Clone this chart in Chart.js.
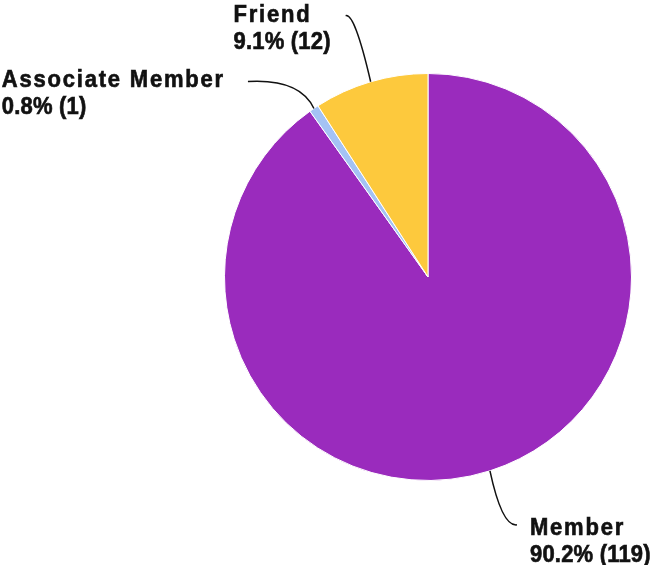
<!DOCTYPE html>
<html>
<head>
<meta charset="utf-8">
<script src="https://cdn.jsdelivr.net/npm/chart.js@4/dist/chart.umd.min.js"></script>
<style>
  html, body { margin: 0; padding: 0; background: #fff; }
  #wrap { width: 655px; height: 565px; }
</style>
</head>
<body>
<div id="wrap"><canvas id="chart" width="655" height="565"></canvas></div>
<script>
const labels = ['Member', 'Associate Member', 'Friend'];
const counts = [119, 1, 12];
const colors = ['#9a2bbd', '#a4c2f4', '#fdc93d'];

// leader line shapes, relative to the slice's outer mid point
const leaders = [
  { end: [27, 54], ctrl: [12, 56], side: 'right', gap: 13, base: 10 },
  { end: [-66, -27], ctrl: [-14, -30], side: 'left', gap: 23, base: 6 },
  { end: [-25, -66], ctrl: [-16, -69], side: 'left', gap: 15, base: 6 }
];

const total = counts.reduce((a, b) => a + b, 0);

function drawText(ctx, text, x, y, spacing) {
  ctx.save();
  ctx.letterSpacing = spacing + 'px';
  ctx.translate(x, y);
  ctx.scale(1, 1.1);
  ctx.lineWidth = 0.6;
  ctx.strokeText(text, 0, 0);
  ctx.fillText(text, 0, 0);
  ctx.restore();
}

const calloutPlugin = {
  id: 'callouts',
  afterDatasetsDraw(chart) {
    const ctx = chart.ctx;
    const meta = chart.getDatasetMeta(0);
    ctx.save();
    ctx.font = 'bold 22px "Liberation Sans", Arial, sans-serif';
    ctx.fillStyle = '#111';
    ctx.strokeStyle = '#111';
    ctx.lineWidth = 1.5;
    ctx.textAlign = 'left';
    ctx.textBaseline = 'alphabetic';
    meta.data.forEach((arc, i) => {
      const mid = (arc.startAngle + arc.endAngle) / 2;
      const ax = arc.x + Math.cos(mid) * arc.outerRadius;
      const ay = arc.y + Math.sin(mid) * arc.outerRadius;
      const l = leaders[i];
      const ex = ax + l.end[0], ey = ay + l.end[1];
      ctx.beginPath();
      ctx.moveTo(ax, ay);
      ctx.quadraticCurveTo(ax + l.ctrl[0], ay + l.ctrl[1], ex, ey);
      ctx.stroke();

      const pct = (counts[i] / total * 100).toFixed(1) + '% (' + counts[i] + ')';
      ctx.letterSpacing = '1.8px';
      const w1 = ctx.measureText(labels[i]).width;
      ctx.letterSpacing = '0.2px';
      const w2 = ctx.measureText(pct).width;
      ctx.letterSpacing = '0px';
      const w = Math.max(w1, w2);
      const tx = l.side === 'right' ? ex + l.gap : ex - l.gap - w;
      drawText(ctx, labels[i], tx, ey + l.base, 1.8);
      drawText(ctx, pct, tx, ey + l.base + 27, 0.2);
    });
    ctx.restore();
  }
};

new Chart(document.getElementById('chart'), {
  type: 'pie',
  data: {
    labels: labels,
    datasets: [{
      data: counts,
      backgroundColor: colors,
      borderColor: '#ffffff',
      borderWidth: 1
    }]
  },
  options: {
    responsive: false,
    animation: false,
    layout: { padding: { left: 224, right: 23, top: 73, bottom: 84 } },
    plugins: {
      legend: { display: false },
      tooltip: { enabled: false }
    }
  },
  plugins: [calloutPlugin]
});
</script>
</body>
</html>
